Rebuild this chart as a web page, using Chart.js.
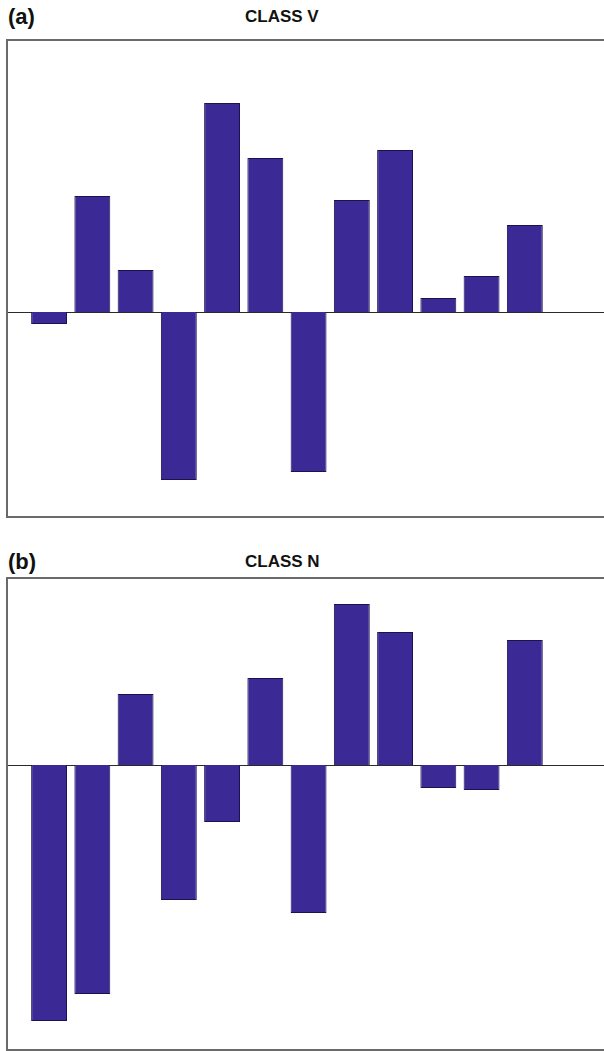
<!DOCTYPE html>
<html>
<head>
<meta charset="utf-8">
<script src="https://cdn.jsdelivr.net/npm/chart.js@4/dist/chart.umd.min.js"></script>
<style>
  html, body { margin: 0; padding: 0; background: #fff; overflow: hidden; }
  body { width: 604px; height: 1051px; position: relative; }
  canvas { position: absolute; left: 0; }
  .lbl { position: absolute; font-family: "Liberation Sans", Arial, sans-serif; font-weight: bold; color: #111; line-height: 1; white-space: nowrap; }
  .panel { font-size: 22px; left: 8px; }
  .ttl { font-size: 17px; left: 245px; }
</style>
</head>
<body>
<div class="lbl panel" style="top:6px">(a)</div>
<div class="lbl ttl" style="top:8px">CLASS V</div>
<canvas id="chartA" width="612" height="520" style="top:0"></canvas>

<div class="lbl panel" style="top:551px">(b)</div>
<div class="lbl ttl" style="top:553px">CLASS N</div>
<canvas id="chartB" width="612" height="491" style="top:560px"></canvas>

<script>
// Twelve components, one bar each
const categories = [1, 2, 3, 4, 5, 6, 7, 8, 9, 10, 11, 12];

// Class V weights
const classV = [-0.12, 1.16, 0.42, -1.68, 2.09, 1.54, -1.60, 1.12, 1.62, 0.14, 0.36, 0.87];
// Class N weights
const classN = [-2.56, -2.29, 0.71, -1.35, -0.57, 0.87, -1.48, 1.61, 1.33, -0.23, -0.25, 1.25];

// Frame around the plot area plus the zero baseline
const framePlugin = {
  id: 'frame',
  beforeDatasetsDraw(chart) {
    const { ctx, chartArea: a, scales } = chart;
    const y0 = Math.round(scales.y.getPixelForValue(0)) + 0.5;
    ctx.save();
    ctx.strokeStyle = '#2a2a2a';
    ctx.lineWidth = 1;
    ctx.beginPath();
    ctx.moveTo(a.left, y0);
    ctx.lineTo(a.right, y0);
    ctx.stroke();
    ctx.restore();
  },
  afterDraw(chart) {
    const { ctx, chartArea: a } = chart;
    ctx.save();
    ctx.strokeStyle = '#6a6a6a';
    ctx.lineWidth = 2;
    ctx.strokeRect(a.left, a.top, a.right - a.left, a.bottom - a.top);
    ctx.restore();
  }
};

function makeChart(id, values, yMin, yMax, pad) {
  return new Chart(document.getElementById(id), {
    type: 'bar',
    data: {
      datasets: [{
        data: categories.map((c, i) => ({ x: c, y: values[i] })),
        backgroundColor: '#3b2995',
        borderColor: '#1b1250',
        borderWidth: 1,
        barPercentage: 0.83,
        categoryPercentage: 1.0
      }]
    },
    options: {
      responsive: false,
      devicePixelRatio: 1,
      animation: false,
      layout: { padding: pad },
      plugins: { legend: { display: false }, tooltip: { enabled: false }, title: { display: false } },
      scales: {
        x: { type: 'linear', offset: false, min: 0.027, max: 13.9, display: false },
        y: { min: yMin, max: yMax, display: false }
      }
    },
    plugins: [framePlugin]
  });
}

makeChart('chartA', classV, -2.05, 2.72, { left: 7, top: 40, right: 5, bottom: 3 });
makeChart('chartB', classN, -2.85, 1.87, { left: 7, top: 18, right: 5, bottom: 1 });
</script>
</body>
</html>
